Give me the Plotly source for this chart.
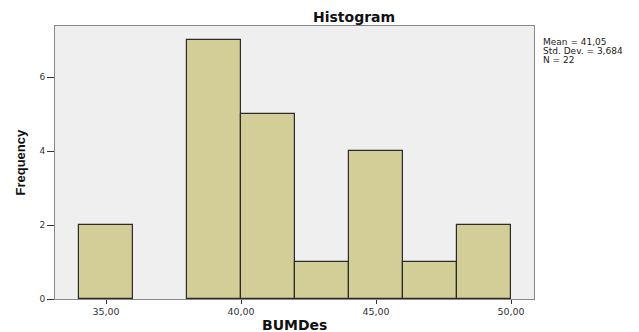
import plotly.graph_objects as go

bin_centers = [35, 37, 39, 41, 43, 45, 47, 49]
counts = [2, 0, 7, 5, 1, 4, 1, 2]
bin_width = 2
x_ticks = [35, 40, 45, 50]
x_tick_labels = ["35,00", "40,00", "45,00", "50,00"]
y_ticks = [0, 2, 4, 6]
stats_lines = ["Mean = 41,05", "Std. Dev. = 3,684", "N = 22"]

# figure geometry (page has 8px body margin)
W, H = 631, 324
ML, MR, MT, MB = 47, 105, 18, 33
PW = W - ML - MR
PH = H - MT - MB

def px_to_paper_x(px):
    return (px - ML) / PW

fig = go.Figure()
fig.add_trace(go.Bar(
    x=bin_centers, y=counts, width=[bin_width] * len(bin_centers),
    marker=dict(color="#d3ce98",
                line=dict(color="#2b2b2b", width=[1.2 if c > 0 else 0 for c in counts])),
    showlegend=False,
))

annotations = [
    dict(text="<b>Histogram</b>", x=px_to_paper_x(346), xref="paper", xanchor="center",
         y=1, yref="paper", yanchor="middle", yshift=9, showarrow=False,
         font=dict(size=14, color="#111", family="DejaVu Sans, sans-serif")),
    dict(text="<b>BUMDes</b>", x=0.5, xref="paper", xanchor="center",
         y=0, yref="paper", yanchor="middle", yshift=-26, showarrow=False,
         font=dict(size=14, color="#111", family="DejaVu Sans, sans-serif")),
    dict(text="<b>Frequency</b>", x=px_to_paper_x(12), xref="paper", xanchor="center",
         y=0.5, yref="paper", yanchor="middle", textangle=-90, showarrow=False,
         font=dict(size=13, color="#111", family="Liberation Sans Narrow, Liberation Sans, Arial, sans-serif")),
]
for i, line in enumerate(stats_lines):
    annotations.append(dict(
        text=line, x=px_to_paper_x(534), xref="paper", xanchor="left",
        y=1, yref="paper", yanchor="middle", yshift=-(16 + 9 * i), showarrow=False,
        borderpad=0,
        font=dict(size=9, color="#222", family="DejaVu Sans, sans-serif")))

fig.update_layout(
    width=W, height=H,
    margin=dict(l=ML, r=MR, t=MT, b=MB),
    paper_bgcolor="white", plot_bgcolor="#efefef",
    font=dict(family="DejaVu Sans, sans-serif", color="#222"),
    bargap=0,
    annotations=annotations,
)

fig.update_xaxes(
    range=[33.11, 50.85], tickvals=x_ticks, ticktext=x_tick_labels,
    ticks="outside", ticklen=4, tickcolor="#333", tickfont=dict(size=9.5, color="#333"),
    showgrid=False, zeroline=False, showline=True, linecolor="#888", mirror=True, linewidth=1,
)
fig.update_yaxes(
    range=[0, 7.38], tickvals=y_ticks,
    ticks="outside", ticklen=7, tickcolor="#333", tickfont=dict(size=9, color="#333"),
    showgrid=False, zeroline=False, showline=True, linecolor="#888", mirror=True, linewidth=1,
)

fig.write_html("out.html")
